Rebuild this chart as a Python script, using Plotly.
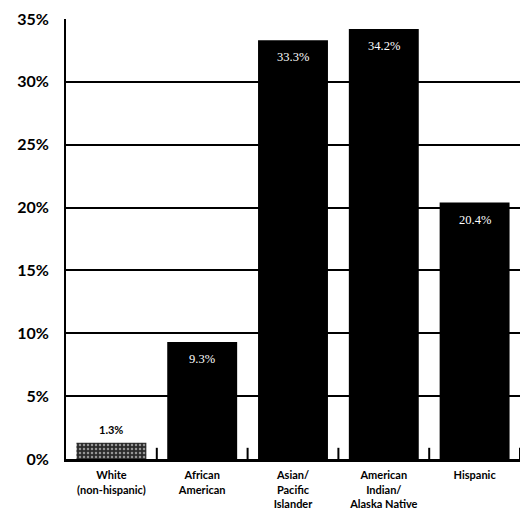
import plotly.graph_objects as go

# Share of each group, percent
groups = [
    "White<br>(non-hispanic)",
    "African<br>American",
    "Asian/<br>Pacific<br>Islander",
    "American<br>Indian/<br>Alaska Native",
    "Hispanic",
]
values = [1.3, 9.3, 33.3, 34.2, 20.4]
value_labels = ["1.3%", "9.3%", "33.3%", "34.2%", "20.4%"]
y_ticks = [0, 5, 10, 15, 20, 25, 30, 35]
y_tick_labels = ["0%", "5%", "10%", "15%", "20%", "25%", "30%", "35%"]

bar_colors = ["#2a2a2a", "#000000", "#000000", "#000000", "#000000"]
label_inside = [False, True, True, True, True]

n = len(groups)
# category boundaries to the right of each bar, for the small baseline ticks
boundaries = [i + 0.5 for i in range(n)]

fig = go.Figure()
fig.add_trace(
    go.Bar(
        x=groups,
        y=values,
        marker=dict(
            color=bar_colors,
            line=dict(width=0),
            pattern=dict(
                shape=[".", "", "", "", ""],
                fgcolor="#8a8a8a",
                bgcolor="#252525",
                size=4,
                solidity=0.3,
            ),
        ),
        width=0.77,
        showlegend=False,
        hoverinfo="skip",
    )
)

# short upright ticks on the baseline between the bars (lower half clipped)
fig.add_trace(
    go.Scatter(
        x=boundaries,
        y=[0] * n,
        xaxis="x2",
        yaxis="y",
        mode="markers",
        marker=dict(
            symbol="line-ns-open",
            size=16,
            color="#000000",
            line=dict(color="#000000", width=2),
        ),
        cliponaxis=True,
        showlegend=False,
        hoverinfo="skip",
    )
)

# value labels: white just under the bar top, or black above a short bar
for g, v, lab, inside in zip(groups, values, value_labels, label_inside):
    if inside:
        fig.add_annotation(
            x=g, y=v, text=lab, showarrow=False, yanchor="middle", yshift=-17,
            font=dict(color="#ffffff", size=12.5, family="Liberation Serif"),
        )
    else:
        fig.add_annotation(
            x=g, y=v, text=lab, showarrow=False, yanchor="middle", yshift=13,
            font=dict(color="#000000", size=11, family="Lato", weight="bold"),
        )

fig.update_layout(
    width=524,
    height=510,
    margin=dict(l=66, r=4, t=19, b=51, autoexpand=False),
    paper_bgcolor="white",
    plot_bgcolor="white",
    font=dict(family="Lato", color="#000000"),
    xaxis=dict(
        type="category",
        automargin=False,
        showgrid=False,
        showline=True,
        linecolor="#000000",
        linewidth=3,
        ticks="",
        tickfont=dict(size=11, family="Lato", weight="bold"),
        ticklabelstandoff=4,
        zeroline=False,
    ),
    xaxis2=dict(
        overlaying="x",
        anchor="y",
        side="bottom",
        range=[-0.5, n - 0.5],
        showticklabels=False,
        ticks="",
        showgrid=False,
        showline=False,
        zeroline=False,
        automargin=False,
    ),
    yaxis=dict(
        range=[0, 35],
        automargin=False,
        tickvals=y_ticks,
        ticktext=y_tick_labels,
        showgrid=True,
        gridcolor="#000000",
        gridwidth=2,
        showline=True,
        linecolor="#000000",
        linewidth=2,
        zeroline=False,
        ticks="",
        tickfont=dict(size=16, family="Lato", weight="bold"),
        ticklabelstandoff=12,
    ),
)

fig.write_html("out.html")
